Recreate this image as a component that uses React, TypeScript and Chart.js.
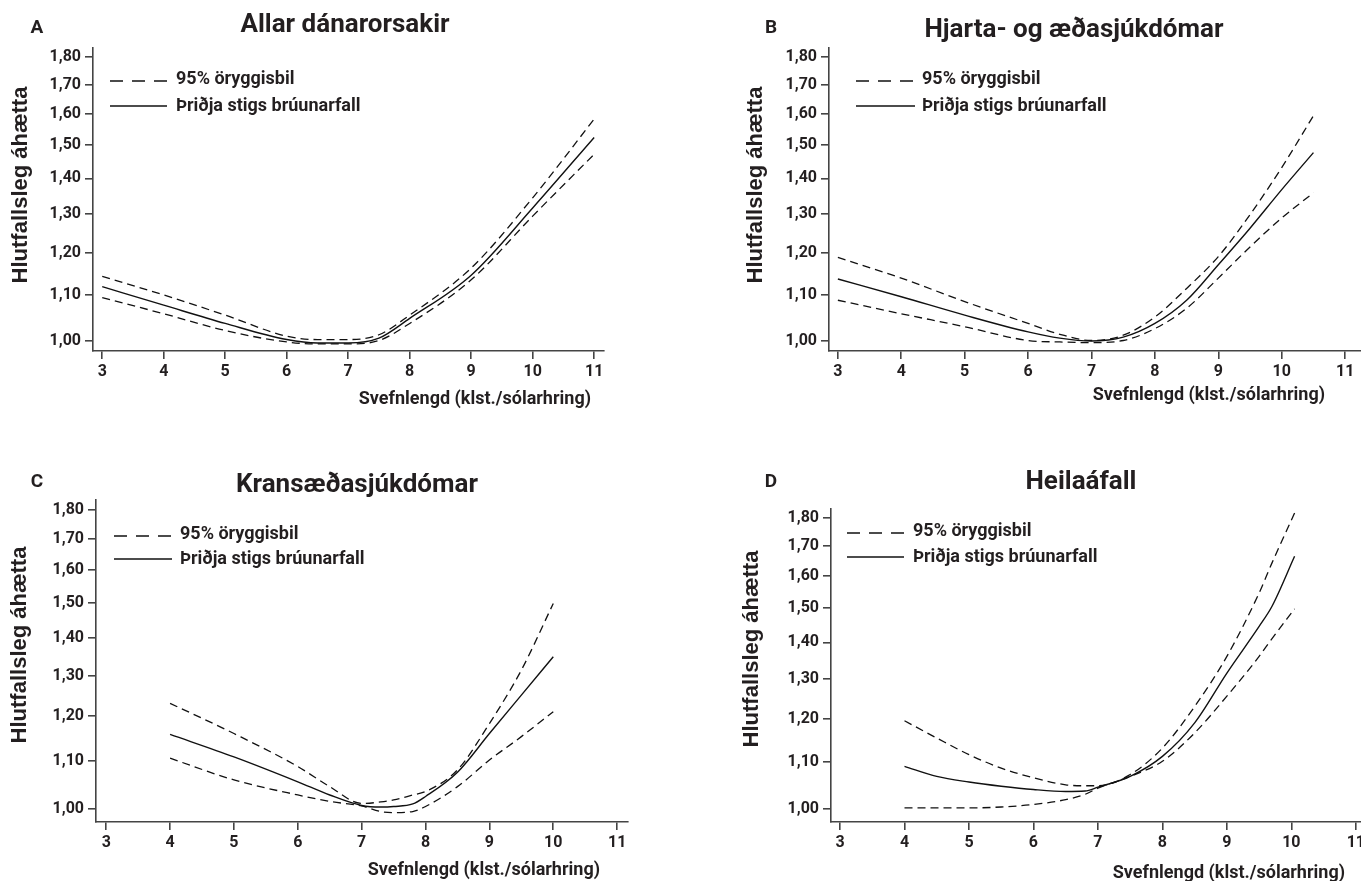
import React, { useEffect, useRef } from "react";
import { Chart, registerables } from "chart.js";

Chart.register(...registerables);

// ---------- data ----------
const X_TICKS = [3, 4, 5, 6, 7, 8, 9, 10, 11];
const Y_TICKS = [1.0, 1.1, 1.2, 1.3, 1.4, 1.5, 1.6, 1.7, 1.8];

const LEGEND_CI = "95% öryggisbil";
const LEGEND_SPLINE = "Þriðja stigs brúunarfall";
const X_TITLE = "Svefnlengd (klst./sólarhring)";
const Y_TITLE = "Hlutfallsleg áhætta";

const A_X = [3, 4, 5, 6, 6.5, 7, 7.5, 8, 9, 10, 11];
const A_EST = [1.119, 1.077, 1.037, 1.003, 0.996, 0.996, 1.006, 1.048, 1.146, 1.317, 1.524];
const A_UP = [1.143, 1.1, 1.055, 1.01, 1.003, 1.003, 1.013, 1.055, 1.163, 1.345, 1.583];
const A_LO = [1.094, 1.058, 1.022, 0.998, 0.994, 0.994, 1.001, 1.037, 1.135, 1.295, 1.472];

const B_X = [3, 4, 5, 6, 6.5, 7, 7.5, 8, 8.5, 9, 9.5, 10, 10.5];
const B_EST = [1.137, 1.096, 1.055, 1.019, 1.006, 1.0, 1.008, 1.037, 1.088, 1.171, 1.263, 1.368, 1.477];
const B_UP = [1.189, 1.139, 1.085, 1.037, 1.014, 1.001, 1.012, 1.051, 1.115, 1.191, 1.299, 1.432, 1.594];
const B_LO = [1.088, 1.058, 1.03, 1.001, 0.998, 0.9965, 1.001, 1.026, 1.07, 1.139, 1.215, 1.29, 1.359];

const C_X = [4, 5, 6, 6.5, 7, 7.3, 7.5, 7.8, 8, 8.5, 9, 9.5, 10];
const C_EST = [1.158, 1.108, 1.055, 1.028, 1.007, 1.004, 1.005, 1.01, 1.025, 1.075, 1.16, 1.251, 1.349];
const C_UP = [1.231, 1.16, 1.087, 1.045, 1.011, 1.014, 1.018, 1.028, 1.035, 1.08, 1.183, 1.314, 1.498];
const C_LO = [1.105, 1.059, 1.028, 1.015, 1.006, 0.995, 0.993, 0.995, 1.005, 1.045, 1.101, 1.153, 1.211];

const D_X = [4, 4.5, 5, 5.5, 6, 6.5, 6.8, 7, 7.5, 8, 8.5, 9, 9.5, 9.7, 10.05];
const D_EST = [1.09, 1.068, 1.056, 1.047, 1.04, 1.036, 1.037, 1.045, 1.068, 1.112, 1.19, 1.316, 1.446, 1.506, 1.666];
const D_UP = [1.195, 1.154, 1.116, 1.086, 1.065, 1.05, 1.048, 1.048, 1.072, 1.131, 1.23, 1.361, 1.547, 1.644, 1.818];
const D_LO = [1.002, 1.002, 1.002, 1.004, 1.009, 1.019, 1.03, 1.043, 1.068, 1.101, 1.166, 1.256, 1.361, 1.411, 1.498];

// ---------- styling ----------
const TEXT = "#231f20";
const AXIS = "#444444";
const FONT = "Roboto, 'DejaVu Sans', sans-serif";
const YTITLE_FONT = "'Liberation Sans', Arial, sans-serif";

type Panel = {
  letter: string;
  title: string;
  left: number;
  top: number;
  W: number;
  H: number;
  area: { l: number; t: number; r: number; b: number };
  xr: [number, number];
  yr: [number, number];
  letterPos: [number, number];
  titlePos: [number, number];
  legX: [number, number, number];
  legY: [number, number];
  yTitlePos: [number, number];
  xTitlePos: [number, number];
  xs: number[];
  est: number[];
  up: number[];
  lo: number[];
};

const PANELS: Panel[] = [
  {
    letter: "A", title: "Allar dánarorsakir", left: 0, top: 0, W: 680, H: 420,
    area: { l: 93, t: 48, r: 604, b: 351 }, xr: [2.85, 11.16], yr: [0.9795, 1.834],
    letterPos: [37, 28], titlePos: [345, 25], legX: [110, 167, 176], legY: [81, 106],
    yTitlePos: [21, 185], xTitlePos: [591, 399], xs: A_X, est: A_EST, up: A_UP, lo: A_LO,
  },
  {
    letter: "B", title: "Hjarta- og æðasjúkdómar", left: 680, top: 0, W: 681, H: 420,
    area: { l: 149, t: 48, r: 681, b: 351 }, xr: [2.86, 11.25], yr: [0.9795, 1.834],
    letterPos: [91, 28], titlePos: [394, 30], legX: [176, 235, 242], legY: [81, 106],
    yTitlePos: [76, 185], xTitlePos: [645, 395], xs: B_X, est: B_EST, up: B_UP, lo: B_LO,
  },
  {
    letter: "C", title: "Kransæðasjúkdómar", left: 0, top: 440, W: 680, H: 441,
    area: { l: 96, t: 60, r: 628, b: 382 }, xr: [2.84, 11.17], yr: [0.9748, 1.836],
    letterPos: [37, 42], titlePos: [357, 45], legX: [114, 172, 180], legY: [96, 119],
    yTitlePos: [20, 205], xTitlePos: [600, 430], xs: C_X, est: C_EST, up: C_UP, lo: C_LO,
  },
  {
    letter: "D", title: "Heilaáfall", left: 680, top: 440, W: 681, H: 441,
    area: { l: 151, t: 69, r: 681, b: 382 }, xr: [2.86, 11.08], yr: [0.974, 1.833],
    letterPos: [91, 42], titlePos: [401, 42], legX: [167, 224, 233], legY: [93, 117],
    yTitlePos: [72, 209], xTitlePos: [665, 433], xs: D_X, est: D_EST, up: D_UP, lo: D_LO,
  },
];

function pts(xs: number[], ys: number[]) {
  return xs.map((x, i) => ({ x, y: ys[i] }));
}

function PanelChart({ p }: { p: Panel }) {
  const ref = useRef<HTMLCanvasElement | null>(null);
  useEffect(() => {
    if (!ref.current) return;
    const textPlugin = {
      id: "panelText",
      afterDraw(chart: any) {
        const ctx = chart.ctx as CanvasRenderingContext2D;
        ctx.save();
        ctx.fillStyle = TEXT;
        ctx.textBaseline = "middle";
        // letter
        ctx.font = `bold 19px ${FONT}`;
        ctx.textAlign = "center";
        ctx.fillText(p.letter, p.letterPos[0], p.letterPos[1]);
        // title
        ctx.font = `bold 26px ${FONT}`;
        ctx.fillText(p.title, p.titlePos[0], p.titlePos[1]);
        // legend
        ctx.strokeStyle = "#111";
        ctx.lineWidth = 1.3;
        ctx.setLineDash([13, 9]);
        ctx.beginPath();
        ctx.moveTo(p.legX[0], p.legY[0]);
        ctx.lineTo(p.legX[1], p.legY[0]);
        ctx.stroke();
        ctx.setLineDash([]);
        ctx.beginPath();
        ctx.moveTo(p.legX[0], p.legY[1]);
        ctx.lineTo(p.legX[1], p.legY[1]);
        ctx.stroke();
        ctx.font = `bold 18px ${FONT}`;
        ctx.textAlign = "left";
        ctx.fillText(LEGEND_CI, p.legX[2], p.legY[0] - 2);
        ctx.fillText(LEGEND_SPLINE, p.legX[2], p.legY[1]);
        // x title
        ctx.textAlign = "right";
        ctx.fillText(X_TITLE, p.xTitlePos[0], p.xTitlePos[1]);
        // y title
        ctx.save();
        ctx.translate(p.yTitlePos[0], p.yTitlePos[1]);
        ctx.rotate(-Math.PI / 2);
        ctx.textAlign = "center";
        ctx.font = `bold 22px ${YTITLE_FONT}`;
        ctx.fillText(Y_TITLE, 0, 0);
        ctx.restore();
        ctx.restore();
      },
    };

    const tickFont = { family: FONT, size: 16, weight: "bold" as const };
    const chart = new Chart(ref.current, {
      type: "line",
      data: {
        datasets: [
          {
            label: LEGEND_CI,
            data: pts(p.xs, p.up),
            borderColor: "#111",
            borderWidth: 1.3,
            borderDash: [8, 5],
            pointRadius: 0,
            cubicInterpolationMode: "monotone",
            fill: false,
          },
          {
            label: LEGEND_CI + " (neðri)",
            data: pts(p.xs, p.lo),
            borderColor: "#111",
            borderWidth: 1.3,
            borderDash: [8, 5],
            pointRadius: 0,
            cubicInterpolationMode: "monotone",
            fill: false,
          },
          {
            label: LEGEND_SPLINE,
            data: pts(p.xs, p.est),
            borderColor: "#111",
            borderWidth: 1.4,
            pointRadius: 0,
            cubicInterpolationMode: "monotone",
            fill: false,
          },
        ],
      },
      options: {
        animation: false,
        responsive: false,
        maintainAspectRatio: false,
        events: [],
        layout: { padding: { left: 0, top: p.area.t, right: p.W - p.area.r, bottom: 0 } },
        plugins: { legend: { display: false }, tooltip: { enabled: false }, title: { display: false } },
        scales: {
          x: {
            type: "linear",
            position: "bottom",
            min: p.xr[0],
            max: p.xr[1],
            afterBuildTicks: (ax: any) => {
              ax.ticks = X_TICKS.map((v) => ({ value: v }));
            },
            afterFit: (ax: any) => {
              ax.height = p.H - p.area.b;
              ax.paddingLeft = 0;
              ax.paddingRight = 0;
            },
            border: { display: true, color: AXIS, width: 1.6 },
            grid: { drawOnChartArea: false, drawTicks: true, tickLength: 8, color: AXIS, lineWidth: 1.6 },
            ticks: {
              font: tickFont,
              color: TEXT,
              padding: 3,
              maxRotation: 0,
              autoSkip: false,
              callback: (v: any) => String(v),
            },
          },
          y: {
            type: "logarithmic",
            min: p.yr[0],
            max: p.yr[1],
            afterBuildTicks: (ax: any) => {
              ax.ticks = Y_TICKS.map((v) => ({ value: v }));
            },
            afterFit: (ax: any) => {
              ax.width = p.area.l;
              ax.paddingTop = 0;
              ax.paddingBottom = 0;
            },
            border: { display: true, color: AXIS, width: 1.6 },
            grid: { drawOnChartArea: false, drawTicks: true, tickLength: 8, color: AXIS, lineWidth: 1.6 },
            ticks: {
              font: tickFont,
              color: TEXT,
              padding: 4,
              autoSkip: false,
              callback: (v: any) => Number(v).toFixed(2).replace(".", ","),
            },
          },
        },
      } as any,
      plugins: [textPlugin],
    });
    return () => chart.destroy();
  }, [p]);

  return (
    <div style={{ position: "absolute", left: p.left, top: p.top, width: p.W, height: p.H }}>
      <canvas ref={ref} width={p.W} height={p.H} style={{ width: p.W, height: p.H, display: "block" }} />
    </div>
  );
}

export default function App() {
  return (
    <div
      style={{
        position: "absolute",
        left: 0,
        top: 0,
        width: 1361,
        height: 881,
        background: "#ffffff",
        overflow: "hidden",
      }}
    >
      {PANELS.map((p) => (
        <PanelChart key={p.letter} p={p} />
      ))}
    </div>
  );
}
